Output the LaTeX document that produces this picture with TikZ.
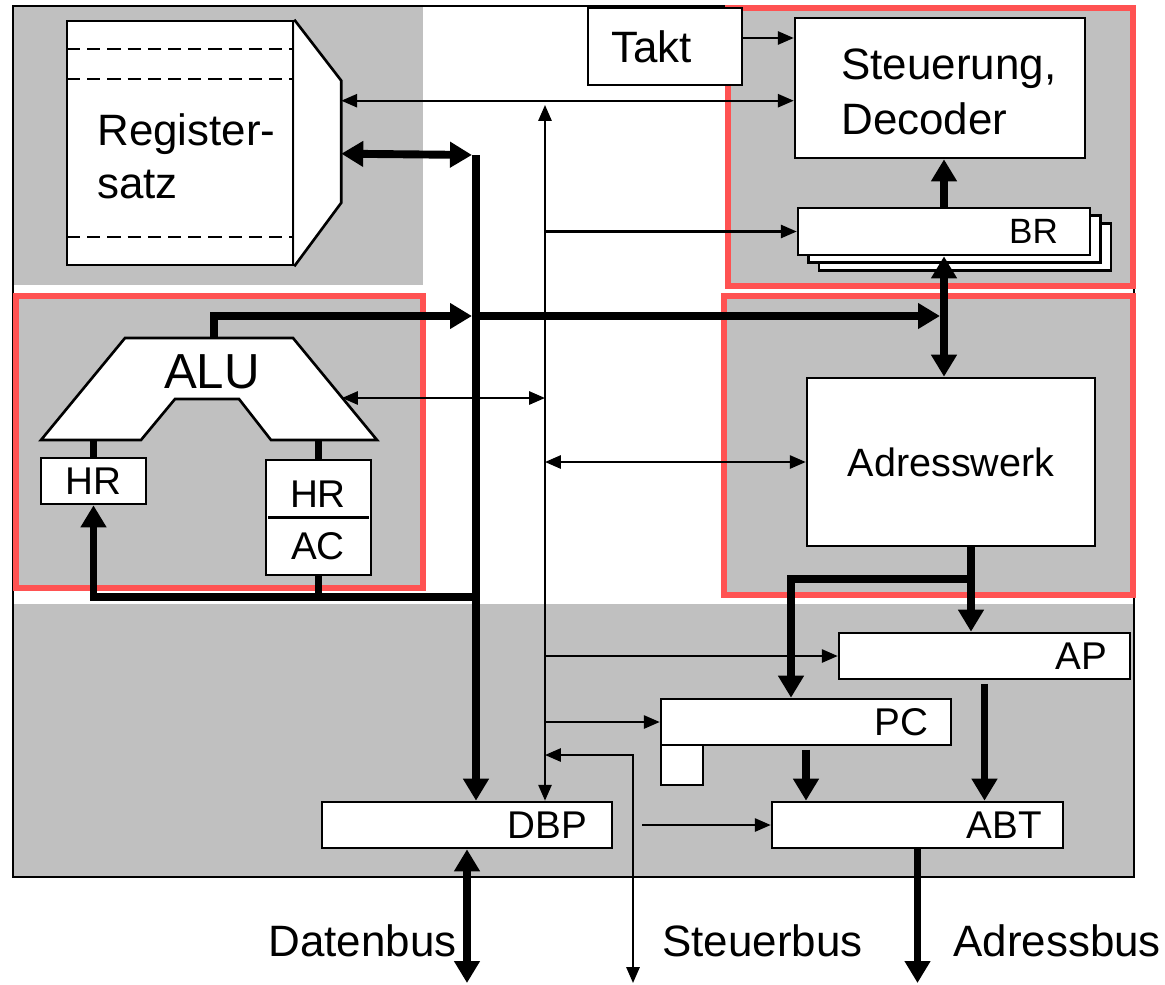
\documentclass[tikz,border=0pt]{standalone}
\usepackage{fontspec}
\setmainfont{Liberation Sans}
\usetikzlibrary{arrows.meta,positioning}
\definecolor{panelgray}{RGB}{192,192,192}
\definecolor{unitred}{RGB}{255,82,82}

\begin{document}
\begin{tikzpicture}[x=0.02cm, y=-0.02cm,
        box/.style={draw, line width=1.5pt, fill=white, inner sep=0pt},
        lbl/.style={inner sep=0pt, font=\fontsize{22}{26}\selectfont},
        big/.style={inner sep=0pt, font=\fontsize{25}{31}\selectfont},
        unitbox/.style={draw=unitred, line width=3.5pt, fill=panelgray},
        ctl/.style={line width=1.15pt, -{Triangle[length=9pt,width=7.5pt]}},
        ctlboth/.style={line width=1.15pt, {Triangle[length=9pt,width=7.5pt]}-{Triangle[length=9pt,width=7.5pt]}},
        bus/.style={line width=4.5pt},
        busarr/.style={bus, -{Triangle[length=12.5pt,width=14pt]}},
        busboth/.style={bus, {Triangle[length=12.5pt,width=14pt]}-{Triangle[length=12.5pt,width=14pt]}}]
    \useasboundingbox (0,0) rectangle (1165,984);
    % background
    \fill[panelgray] (13,6) rectangle (423,285);
    \fill[panelgray] (13,604) rectangle (1134,877);
    \draw[line width=1.5pt] (13,6) rectangle (1134,877);
    % units
    \draw[unitbox] (728,8) rectangle (1133,286);
    \draw[unitbox] (16,296) rectangle (423,588);
    \draw[unitbox] (724,296) rectangle (1133,595);

    % register set
    \node[box, minimum width=4.52cm, minimum height=4.88cm] (reg) at (180,143) {};
    \foreach \yy in {49,79,237}
        \draw[line width=1.5pt, dash pattern=on 7.5pt off 4pt] (67,\yy) -- (293,\yy);
    \draw[line width=1.5pt, fill=white] (reg.north east) -- ++(47,61) coordinate (regport) -- ++(0,122) -- (reg.south east);
    \node[big, anchor=base west] (regname) at (97,145) {Register-};
    \node[big, anchor=base west] (regname2) at (97,198) {satz};

    % ALU with its registers
    \draw[line width=1.5pt, fill=white] (125,338) -- (293,338) -- (377,440) coordinate (alubr) -- (271,440) -- (239,399) -- (175,399) -- (141,440) -- (41,440) coordinate (alubl) -- cycle;
    \coordinate (aluout) at (214,338);
    \coordinate (aluin) at (342,398);
    \node[inner sep=0pt, font=\fontsize{28}{32}\selectfont] (alu) at (212,372) {ALU};
    \node[box, lbl, minimum width=2.1cm, minimum height=0.92cm] (hrl) at (93.5,481) {HR};
    \node[box, minimum width=2.1cm, minimum height=2.3cm] (hrac) at (318.5,517.5) {};
    \draw[line width=1.5pt, shorten <=2pt, shorten >=2pt] (hrac.west) -- (hrac.east);
    \node[lbl] (hrtop) at (318,494) {HR};
    \node[lbl] (acc) at (318,546) {AC};

    % clock and control unit
    \node[box, minimum width=3.08cm, minimum height=1.54cm] (takt) at (665,46.5) {};
    \node[big, right=0.48cm of takt.west] (takttxt) {Takt};
    \node[box, minimum width=5.8cm, minimum height=2.8cm] (steu) at (940,88) {};
    \node[big, align=left, anchor=west] (steutxt) at (841,92) {Steuerung,\\Decoder};
    \foreach \k in {2,1}
        \node[box, minimum width=5.84cm, minimum height=0.94cm] (brback\k) at ({944+10.5*\k},{231.5+7.8*\k}) {};
    \node[box, minimum width=5.84cm, minimum height=0.94cm] (br) at (944,231.5) {};
    \node[lbl, font=\fontsize{20}{24}\selectfont, left=0.66cm of br.east] (brtxt) {BR};

    % address unit
    \node[box, font=\fontsize{22.5}{27}\selectfont, minimum width=5.76cm, minimum height=3.36cm] (adr) at (951,462) {Adresswerk};

    % bus registers
    \node[box, minimum width=5.82cm, minimum height=0.92cm] (ap) at (984.5,656) {};
    \node[lbl, left=0.48cm of ap.east] (aptxt) {AP};
    \node[box, minimum width=5.8cm, minimum height=0.92cm] (pc) at (806,722) {};
    \node[lbl, left=0.48cm of pc.east] (pctxt) {PC};
    \node[box, line width=1.2pt, minimum width=0.84cm, minimum height=0.8cm] (pcflag) at (682,765) {};
    \node[box, minimum width=5.82cm, minimum height=0.92cm] (abt) at (917.5,825) {};
    \node[lbl, left=0.44cm of abt.east] (abttxt) {ABT};
    \node[box, minimum width=5.8cm, minimum height=0.92cm] (dbp) at (467,825) {};
    \node[lbl, left=0.52cm of dbp.east] (dbptxt) {DBP};

    % control lines
    \coordinate (ctltop) at (545,105);
    \coordinate (regin) at ([yshift=-0.4cm]regport);
    \coordinate (regbus) at ([yshift=-1.46cm]regport);
    \coordinate (bustop) at (476,155);
    \coordinate (alubus) at (476,316);
    \coordinate (hrbus) at (476,597);
    \coordinate (sbend) at (633,755);
    \coordinate (outbot) at (0,983);
    \draw[ctlboth] (ctltop) -- (ctltop |- dbp.north);
    \draw[ctlboth] (regin) -- (regin -| steu.west);
    \coordinate (taktout) at ([yshift=0.17cm]takt.east);
    \draw[ctl] (taktout) -- (taktout -| steu.west);
    \draw[ctl] (ctltop |- br.west) -- (br.west);
    \draw[ctlboth] (aluin) -- (aluin -| ctltop);
    \draw[ctlboth] (ctltop |- adr.west) -- (adr.west);
    \draw[ctl] (ctltop |- ap.west) -- (ap.west);
    \draw[ctl] (ctltop |- pc.west) -- (pc.west);
    \draw[ctlboth] (sbend -| ctltop) -- (sbend) -- (sbend |- outbot);
    \coordinate (dbpout) at ([xshift=0.58cm]dbp.east);
    \draw[ctl] (dbpout) -- (abt.west);

    % data and address paths
    \draw[busboth, shorten >=2.3pt] (regbus) -- (bustop);
    \draw[busarr] (bustop) -- (bustop |- dbp.north);
    \draw[busarr, shorten >=2.3pt] (aluout) |- (alubus);
    \draw[busarr, shorten >=2.3pt] (alubus) -- (alubus -| br.south);
    \draw[busboth] (br.south) -- (br.south |- adr.north);
    \draw[busarr] (br.north) -- (br.north |- steu.south);
    \coordinate (adrout) at ([xshift=0.4cm]adr.south);
    \coordinate (adrsplit) at ([yshift=-0.64cm]adrout);
    \draw[busarr] (adrout) -- (adrout |- ap.north);
    \draw[busarr] (adrsplit) -| ([xshift=-0.3cm]pc.north);
    \draw[busarr, shorten <=2pt] (pc.south) -- (pc.south |- abt.north);
    \draw[busarr, shorten <=2pt] (ap.south) -- (ap.south |- abt.north);
    \draw[busarr] (abt.south) -- (abt.south |- outbot);
    \draw[busboth] (dbp.south) -- (dbp.south |- outbot);
    \draw[busarr] (hrbus) -| (hrl.south);
    \draw[bus] (hrac.south) -- (hrac.south |- hrbus);
    \draw[bus] (hrl.north) -- (hrl.north |- alubl);
    \draw[bus] (hrac.north) -- (hrac.north |- alubr);

    % bus names
    \node[big, anchor=base east] (datenbus) at (457,956) {Datenbus};
    \node[big, anchor=base west] (steuerbus) at (662,956) {Steuerbus};
    \node[big, anchor=base west] (adressbus) at (953,956) {Adressbus};
\end{tikzpicture}
\end{document}
